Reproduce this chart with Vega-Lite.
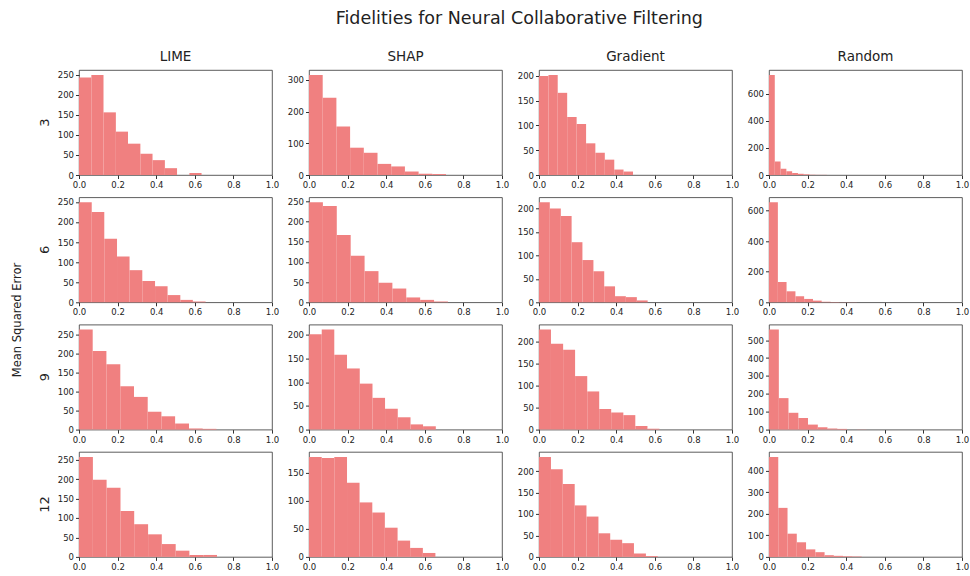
{
  "$schema": "https://vega.github.io/schema/vega-lite/v6.json",
  "padding": {"left": 11, "top": 10, "right": 0, "bottom": 2},
  "title": {"text": "Fidelities for Neural Collaborative Filtering", "fontSize": 17.5, "fontWeight": "normal", "anchor": "middle", "color": "#222", "offset": 22, "dx": 29},
  "data": {"values": [
    {"m":"LIME","k":3,"a":0,"b":0.064,"n":243},{"m":"LIME","k":3,"a":0.064,"b":0.127,"n":249},{"m":"LIME","k":3,"a":0.127,"b":0.191,"n":156},{"m":"LIME","k":3,"a":0.191,"b":0.254,"n":108},{"m":"LIME","k":3,"a":0.254,"b":0.318,"n":78},{"m":"LIME","k":3,"a":0.318,"b":0.381,"n":53},{"m":"LIME","k":3,"a":0.381,"b":0.445,"n":37},{"m":"LIME","k":3,"a":0.445,"b":0.508,"n":17},{"m":"LIME","k":3,"a":0.508,"b":0.572,"n":0},{"m":"LIME","k":3,"a":0.572,"b":0.635,"n":5},
    {"m":"SHAP","k":3,"a":0,"b":0.071,"n":315},{"m":"SHAP","k":3,"a":0.071,"b":0.142,"n":243},{"m":"SHAP","k":3,"a":0.142,"b":0.213,"n":153},{"m":"SHAP","k":3,"a":0.213,"b":0.284,"n":86},{"m":"SHAP","k":3,"a":0.284,"b":0.355,"n":70},{"m":"SHAP","k":3,"a":0.355,"b":0.426,"n":35},{"m":"SHAP","k":3,"a":0.426,"b":0.497,"n":27},{"m":"SHAP","k":3,"a":0.497,"b":0.568,"n":11},{"m":"SHAP","k":3,"a":0.568,"b":0.639,"n":4},{"m":"SHAP","k":3,"a":0.639,"b":0.71,"n":3},
    {"m":"Gradient","k":3,"a":0,"b":0.049,"n":200},{"m":"Gradient","k":3,"a":0.049,"b":0.097,"n":202},{"m":"Gradient","k":3,"a":0.097,"b":0.146,"n":166},{"m":"Gradient","k":3,"a":0.146,"b":0.195,"n":117},{"m":"Gradient","k":3,"a":0.195,"b":0.244,"n":103},{"m":"Gradient","k":3,"a":0.244,"b":0.292,"n":64},{"m":"Gradient","k":3,"a":0.292,"b":0.341,"n":45},{"m":"Gradient","k":3,"a":0.341,"b":0.39,"n":31},{"m":"Gradient","k":3,"a":0.39,"b":0.438,"n":11},{"m":"Gradient","k":3,"a":0.438,"b":0.487,"n":7},
    {"m":"Random","k":3,"a":0,"b":0.03,"n":740},{"m":"Random","k":3,"a":0.03,"b":0.06,"n":100},{"m":"Random","k":3,"a":0.06,"b":0.09,"n":46},{"m":"Random","k":3,"a":0.09,"b":0.12,"n":27},{"m":"Random","k":3,"a":0.12,"b":0.15,"n":15},{"m":"Random","k":3,"a":0.15,"b":0.18,"n":9},{"m":"Random","k":3,"a":0.18,"b":0.21,"n":5},{"m":"Random","k":3,"a":0.21,"b":0.24,"n":2},{"m":"Random","k":3,"a":0.24,"b":0.27,"n":1},{"m":"Random","k":3,"a":0.27,"b":0.3,"n":1},
    {"m":"LIME","k":6,"a":0,"b":0.066,"n":249},{"m":"LIME","k":6,"a":0.066,"b":0.131,"n":225},{"m":"LIME","k":6,"a":0.131,"b":0.197,"n":158},{"m":"LIME","k":6,"a":0.197,"b":0.262,"n":114},{"m":"LIME","k":6,"a":0.262,"b":0.328,"n":80},{"m":"LIME","k":6,"a":0.328,"b":0.394,"n":53},{"m":"LIME","k":6,"a":0.394,"b":0.459,"n":40},{"m":"LIME","k":6,"a":0.459,"b":0.525,"n":18},{"m":"LIME","k":6,"a":0.525,"b":0.59,"n":6},{"m":"LIME","k":6,"a":0.59,"b":0.656,"n":2},
    {"m":"SHAP","k":6,"a":0,"b":0.072,"n":247},{"m":"SHAP","k":6,"a":0.072,"b":0.144,"n":238},{"m":"SHAP","k":6,"a":0.144,"b":0.216,"n":166},{"m":"SHAP","k":6,"a":0.216,"b":0.288,"n":115},{"m":"SHAP","k":6,"a":0.288,"b":0.36,"n":77},{"m":"SHAP","k":6,"a":0.36,"b":0.432,"n":48},{"m":"SHAP","k":6,"a":0.432,"b":0.504,"n":34},{"m":"SHAP","k":6,"a":0.504,"b":0.576,"n":12},{"m":"SHAP","k":6,"a":0.576,"b":0.648,"n":6},{"m":"SHAP","k":6,"a":0.648,"b":0.72,"n":2},
    {"m":"Gradient","k":6,"a":0,"b":0.056,"n":213},{"m":"Gradient","k":6,"a":0.056,"b":0.113,"n":200},{"m":"Gradient","k":6,"a":0.113,"b":0.169,"n":184},{"m":"Gradient","k":6,"a":0.169,"b":0.225,"n":128},{"m":"Gradient","k":6,"a":0.225,"b":0.282,"n":90},{"m":"Gradient","k":6,"a":0.282,"b":0.338,"n":66},{"m":"Gradient","k":6,"a":0.338,"b":0.394,"n":34},{"m":"Gradient","k":6,"a":0.394,"b":0.45,"n":13},{"m":"Gradient","k":6,"a":0.45,"b":0.507,"n":11},{"m":"Gradient","k":6,"a":0.507,"b":0.563,"n":4},
    {"m":"Random","k":6,"a":0,"b":0.046,"n":654},{"m":"Random","k":6,"a":0.046,"b":0.091,"n":133},{"m":"Random","k":6,"a":0.091,"b":0.137,"n":72},{"m":"Random","k":6,"a":0.137,"b":0.182,"n":39},{"m":"Random","k":6,"a":0.182,"b":0.228,"n":22},{"m":"Random","k":6,"a":0.228,"b":0.273,"n":11},{"m":"Random","k":6,"a":0.273,"b":0.319,"n":4},{"m":"Random","k":6,"a":0.319,"b":0.364,"n":2},{"m":"Random","k":6,"a":0.364,"b":0.41,"n":1},{"m":"Random","k":6,"a":0.41,"b":0.455,"n":1},
    {"m":"LIME","k":9,"a":0,"b":0.071,"n":263},{"m":"LIME","k":9,"a":0.071,"b":0.142,"n":207},{"m":"LIME","k":9,"a":0.142,"b":0.214,"n":172},{"m":"LIME","k":9,"a":0.214,"b":0.285,"n":114},{"m":"LIME","k":9,"a":0.285,"b":0.356,"n":86},{"m":"LIME","k":9,"a":0.356,"b":0.427,"n":47},{"m":"LIME","k":9,"a":0.427,"b":0.498,"n":35},{"m":"LIME","k":9,"a":0.498,"b":0.57,"n":16},{"m":"LIME","k":9,"a":0.57,"b":0.641,"n":3},{"m":"LIME","k":9,"a":0.641,"b":0.712,"n":2},
    {"m":"SHAP","k":9,"a":0,"b":0.066,"n":201},{"m":"SHAP","k":9,"a":0.066,"b":0.131,"n":211},{"m":"SHAP","k":9,"a":0.131,"b":0.197,"n":158},{"m":"SHAP","k":9,"a":0.197,"b":0.263,"n":129},{"m":"SHAP","k":9,"a":0.263,"b":0.329,"n":97},{"m":"SHAP","k":9,"a":0.329,"b":0.394,"n":67},{"m":"SHAP","k":9,"a":0.394,"b":0.46,"n":44},{"m":"SHAP","k":9,"a":0.46,"b":0.526,"n":26},{"m":"SHAP","k":9,"a":0.526,"b":0.591,"n":11},{"m":"SHAP","k":9,"a":0.591,"b":0.657,"n":7},
    {"m":"Gradient","k":9,"a":0,"b":0.062,"n":228},{"m":"Gradient","k":9,"a":0.062,"b":0.125,"n":196},{"m":"Gradient","k":9,"a":0.125,"b":0.187,"n":182},{"m":"Gradient","k":9,"a":0.187,"b":0.25,"n":122},{"m":"Gradient","k":9,"a":0.25,"b":0.312,"n":87},{"m":"Gradient","k":9,"a":0.312,"b":0.374,"n":47},{"m":"Gradient","k":9,"a":0.374,"b":0.437,"n":39},{"m":"Gradient","k":9,"a":0.437,"b":0.499,"n":33},{"m":"Gradient","k":9,"a":0.499,"b":0.562,"n":8},{"m":"Gradient","k":9,"a":0.562,"b":0.624,"n":2},
    {"m":"Random","k":9,"a":0,"b":0.051,"n":559},{"m":"Random","k":9,"a":0.051,"b":0.101,"n":176},{"m":"Random","k":9,"a":0.101,"b":0.152,"n":94},{"m":"Random","k":9,"a":0.152,"b":0.202,"n":65},{"m":"Random","k":9,"a":0.202,"b":0.253,"n":28},{"m":"Random","k":9,"a":0.253,"b":0.303,"n":13},{"m":"Random","k":9,"a":0.303,"b":0.354,"n":6},{"m":"Random","k":9,"a":0.354,"b":0.404,"n":4},{"m":"Random","k":9,"a":0.404,"b":0.455,"n":0},{"m":"Random","k":9,"a":0.455,"b":0.505,"n":1},
    {"m":"LIME","k":12,"a":0,"b":0.072,"n":257},{"m":"LIME","k":12,"a":0.072,"b":0.143,"n":198},{"m":"LIME","k":12,"a":0.143,"b":0.215,"n":178},{"m":"LIME","k":12,"a":0.215,"b":0.286,"n":118},{"m":"LIME","k":12,"a":0.286,"b":0.358,"n":84},{"m":"LIME","k":12,"a":0.358,"b":0.429,"n":58},{"m":"LIME","k":12,"a":0.429,"b":0.501,"n":33},{"m":"LIME","k":12,"a":0.501,"b":0.572,"n":16},{"m":"LIME","k":12,"a":0.572,"b":0.644,"n":5},{"m":"LIME","k":12,"a":0.644,"b":0.715,"n":5},
    {"m":"SHAP","k":12,"a":0,"b":0.066,"n":178},{"m":"SHAP","k":12,"a":0.066,"b":0.131,"n":176},{"m":"SHAP","k":12,"a":0.131,"b":0.197,"n":178},{"m":"SHAP","k":12,"a":0.197,"b":0.262,"n":132},{"m":"SHAP","k":12,"a":0.262,"b":0.328,"n":97},{"m":"SHAP","k":12,"a":0.328,"b":0.393,"n":79},{"m":"SHAP","k":12,"a":0.393,"b":0.459,"n":52},{"m":"SHAP","k":12,"a":0.459,"b":0.524,"n":29},{"m":"SHAP","k":12,"a":0.524,"b":0.59,"n":16},{"m":"SHAP","k":12,"a":0.59,"b":0.655,"n":7},
    {"m":"Gradient","k":12,"a":0,"b":0.062,"n":233},{"m":"Gradient","k":12,"a":0.062,"b":0.123,"n":204},{"m":"Gradient","k":12,"a":0.123,"b":0.185,"n":170},{"m":"Gradient","k":12,"a":0.185,"b":0.246,"n":120},{"m":"Gradient","k":12,"a":0.246,"b":0.308,"n":94},{"m":"Gradient","k":12,"a":0.308,"b":0.369,"n":55},{"m":"Gradient","k":12,"a":0.369,"b":0.431,"n":40},{"m":"Gradient","k":12,"a":0.431,"b":0.492,"n":32},{"m":"Gradient","k":12,"a":0.492,"b":0.554,"n":8},{"m":"Gradient","k":12,"a":0.554,"b":0.615,"n":2},
    {"m":"Random","k":12,"a":0,"b":0.048,"n":465},{"m":"Random","k":12,"a":0.048,"b":0.096,"n":228},{"m":"Random","k":12,"a":0.096,"b":0.144,"n":108},{"m":"Random","k":12,"a":0.144,"b":0.192,"n":68},{"m":"Random","k":12,"a":0.192,"b":0.24,"n":35},{"m":"Random","k":12,"a":0.24,"b":0.288,"n":22},{"m":"Random","k":12,"a":0.288,"b":0.336,"n":8},{"m":"Random","k":12,"a":0.336,"b":0.384,"n":5},{"m":"Random","k":12,"a":0.384,"b":0.432,"n":3},{"m":"Random","k":12,"a":0.432,"b":0.48,"n":2}
  ]},
  "facet": {
    "row": {"field": "k", "type": "ordinal", "sort": [3, 6, 9, 12],
      "header": {"title": "Mean Squared Error", "titleOrient": "left", "titleFontSize": 11.5, "titleFontWeight": "normal", "titleColor": "#222", "titlePadding": 6,
                 "labelOrient": "left", "labelAngle": -90, "labelFontSize": 13, "labelColor": "#222", "labelPadding": 21}},
    "column": {"field": "m", "type": "nominal", "sort": ["LIME", "SHAP", "Gradient", "Random"],
      "header": {"title": null, "labelFontSize": 13.5, "labelColor": "#222", "labelPadding": 7}}
  },
  "bounds": "flush",
  "spacing": {"row": 22.3, "column": 37},
  "resolve": {"scale": {"y": "independent"}, "axis": {"x": "independent", "y": "independent"}},
  "spec": {
    "width": 193,
    "height": 105,
    "mark": {"type": "bar", "color": "#F08080", "orient": "vertical"},
    "encoding": {
      "x": {"field": "a", "type": "quantitative", "scale": {"domain": [0, 1], "nice": false, "padding": 0},
            "axis": {"values": [0, 0.2, 0.4, 0.6, 0.8, 1], "format": ".1f", "labelFlush": false, "title": null}},
      "x2": {"field": "b"},
      "y": {"field": "n", "type": "quantitative", "scale": {"nice": false, "zero": true, "range": [110, 0], "padding": 5},
            "axis": {"tickCount": 4.5, "labelFlush": false, "title": null}},
      "y2": {"datum": 0}
    }
  },
  "config": {
    "font": "DejaVu Sans",
    "view": {"stroke": "#333", "strokeWidth": 0.8},
    "axis": {"domain": false, "grid": false, "labelFontSize": 8.5, "labelColor": "#222", "tickColor": "#333", "tickSize": 3.5, "labelPadding": 2}
  }
}
